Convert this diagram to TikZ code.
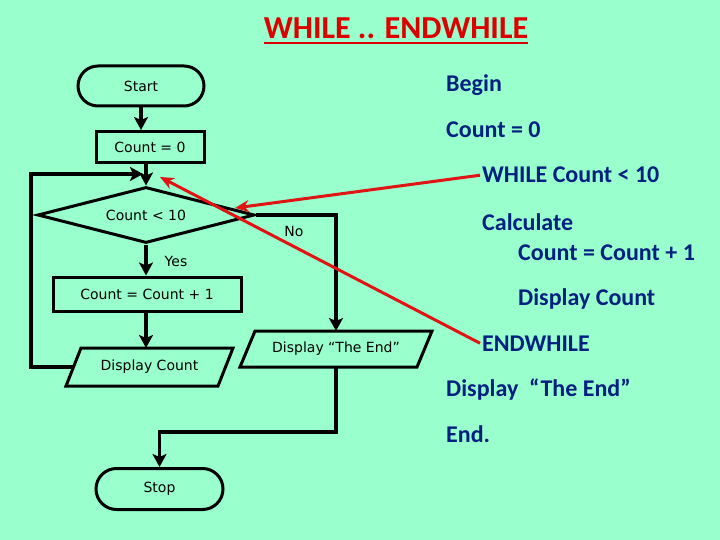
\documentclass[tikz,border=0pt]{standalone}
\usepackage{fontspec}
\setmainfont{Carlito}
\newfontfamily\flowfont{DejaVu Sans}
\usetikzlibrary{shapes.misc,shapes.geometric,arrows.meta}
\definecolor{bg}{RGB}{153,255,204}
\definecolor{titlered}{RGB}{220,0,0}
\definecolor{navy}{RGB}{0,32,128}
\definecolor{pointred}{RGB}{225,20,20}
\begin{document}
\begin{tikzpicture}[x=1pt,y=-1pt,
  box/.style={draw=black, line width=3pt, font=\flowfont\fontsize{14}{16}\selectfont, inner sep=0pt},
  term/.style={box, rounded rectangle},
  proc/.style={box, rectangle},
  dec/.style={box, diamond, shape aspect=3.8},
  io/.style={font=\flowfont\fontsize{14}{16}\selectfont, inner sep=0pt, outer sep=0pt, rectangle},
  para/.style={draw=black, line width=3pt, line join=miter},
  flow/.style={line width=3.5pt, -{Stealth[length=13pt,width=14pt,inset=3pt]}},
  point/.style={draw=pointred, line width=3pt, -{Stealth[length=14pt,width=12pt]}},
  code/.style={font=\bfseries\fontsize{24}{28}\selectfont, text=navy, anchor=base west, inner sep=0pt},
  lbl/.style={font=\flowfont\fontsize{14}{16}\selectfont, inner sep=0pt},
  titlestyle/.style={font=\bfseries\fontsize{32}{38}\selectfont, text=titlered, inner sep=0pt, anchor=base}
]
\fill[bg] (0,0) rectangle (720,540);
\useasboundingbox (0,0) rectangle (720,540);

% title
\node[titlestyle] (title) at (396,39) {WHILE .. ENDWHILE};
\draw[titlered, line width=2.6pt] ([yshift=-3.5pt]title.south west) -- ([yshift=-3.5pt]title.south east);

% flowchart nodes
\node[term, minimum width=126pt, minimum height=40pt] (start) at (141,86) {Start};
\node[proc, minimum width=108pt, minimum height=31pt] (c0) at (150,147) {Count = 0};
\node[dec, minimum width=217pt, minimum height=56pt] (dia) at (146,215) {Count < 10};
\node[proc, minimum width=188pt, minimum height=34pt] (inc) at (147,294) {Count = Count + 1};
\node[io, minimum width=167pt, minimum height=38pt] (dc) at (149.5,367) {Display Count};
\node[io, minimum width=192pt, minimum height=36pt] (de) at (336,349) {Display “The End”};
\node[term, minimum width=127pt, minimum height=41pt] (stop) at (159.5,489) {Stop};

\draw[para] ([xshift=15pt]dc.north west) -- (dc.north east) -- ([xshift=-15pt]dc.south east) -- (dc.south west) -- cycle;
\draw[para] ([xshift=15pt]de.north west) -- (de.north east) -- ([xshift=-15pt]de.south east) -- (de.south west) -- cycle;

% labels
\node[lbl] (yes) at (176,261) {Yes};
\node[lbl] (no) at (294,231) {No};

% connectors
\coordinate (loopin) at (143,174);
\draw[flow] (start.south) -- (start.south |- c0.north);
\draw[flow] (dia.north |- c0.south) -- (dia.north);
\draw[flow] ([xshift=7.5pt]dc.west) -- ++(-42.5,0) |- (loopin);
\draw[flow] (dia.south) -- (dia.south |- inc.north);
\draw[flow] (dia.south |- inc.south) -- (dia.south |- dc.north);
\draw[flow] (dia.east) -| (de.north);
\draw[flow] (de.south) -- ++(0,65) -| (stop.north);

% pseudocode
\node[code] (begin) at (446,92) {Begin};
\node[code] (cz) at (446,138) {Count = 0};
\node[code] (wh) at (482,183) {WHILE Count < 10};
\node[code] (calc) at (482,230) {Calculate};
\node[code] (calc2) at (518,260) {Count = Count + 1};
\node[code] (disp) at (518,305) {Display Count};
\node[code] (ew) at (482,351) {ENDWHILE};
\node[code] (dte) at (446,396) {Display~~“The End”};
\node[code] (endd) at (446,442) {End.};

% red pointers
\coordinate (p1) at (235,208);
\coordinate (p2) at (160,177);
\draw[point] ([xshift=-2pt]wh.west) -- (p1);
\draw[point] ([xshift=-2pt]ew.west) -- (p2);
\end{tikzpicture}
\end{document}
